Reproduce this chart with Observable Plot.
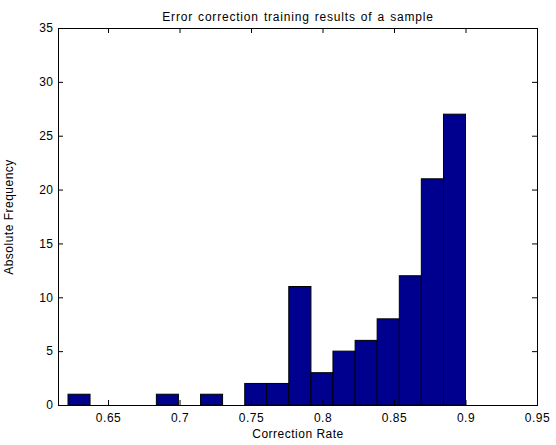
<!DOCTYPE html>
<html>
<head>
<meta charset="utf-8">
<script src="https://cdn.jsdelivr.net/npm/d3@7"></script>
<script src="https://cdn.jsdelivr.net/npm/@observablehq/plot@0.6"></script>
<style>
  html, body { margin: 0; padding: 0; background: #fff; }
  svg { display: block; }
  svg text { letter-spacing: 0.5px; }
  .title-mark text { letter-spacing: 0.8px; word-spacing: 1px; }
</style>
</head>
<body>
<div id="chart"></div>
<script>
const titleText = "Error correction training results of a sample";
const xLabel = "Correction Rate";
const yLabel = "Absolute Frequency";

// histogram bin edges (lower/upper) and counts
const binLower = [0.6220, 0.6374, 0.6529, 0.6683, 0.6838, 0.6992, 0.7147, 0.7301, 0.7456,
                  0.7610, 0.7764, 0.7919, 0.8073, 0.8228, 0.8382, 0.8537, 0.8691, 0.8846];
const binUpper = [0.6374, 0.6529, 0.6683, 0.6838, 0.6992, 0.7147, 0.7301, 0.7456, 0.7610,
                  0.7764, 0.7919, 0.8073, 0.8228, 0.8382, 0.8537, 0.8691, 0.8846, 0.9000];
const counts   = [1, 0, 0, 0, 1, 0, 1, 0, 2, 2, 11, 3, 5, 6, 8, 12, 21, 27];

const xTicks = [0.65, 0.7, 0.75, 0.8, 0.85, 0.9, 0.95];
const xTickLabels = ["0.65", "0.7", "0.75", "0.8", "0.85", "0.9", "0.95"];
const yTicks = [0, 5, 10, 15, 20, 25, 30, 35];
const xDomain = [0.615, 0.95];
const yDomain = [0, 35];

const bins = binLower.map((lo, i) => ({lo, hi: binUpper[i], count: counts[i]})).filter(d => d.count > 0);

const W = 556, H = 445;
const mL = 58, mR = 19, mT = 28, mB = 40;
const innerW = W - mL - mR, innerH = H - mT - mB;
const tickLen = 5;

const chart = Plot.plot({
  width: W,
  height: H,
  marginLeft: mL,
  marginRight: mR,
  marginTop: mT,
  marginBottom: mB,
  style: {fontFamily: "'Liberation Sans', Arial, sans-serif", fontSize: "12px", color: "#000", background: "#fff"},
  x: {domain: xDomain},
  y: {domain: yDomain},
  marks: [
    Plot.rectY(bins, {x1: "lo", x2: "hi", y: "count", fill: "#00008f", stroke: "#000", strokeWidth: 1}),
    Plot.frame({stroke: "#000", strokeWidth: 1}),
    // inward ticks bottom & top
    Plot.tickX(xTicks, {x: d => d, insetTop: innerH - tickLen, stroke: "#000"}),
    Plot.tickX(xTicks, {x: d => d, insetBottom: innerH - tickLen, stroke: "#000"}),
    // inward ticks left & right
    Plot.tickY(yTicks, {y: d => d, insetRight: innerW - tickLen, stroke: "#000"}),
    Plot.tickY(yTicks, {y: d => d, insetLeft: innerW - tickLen, stroke: "#000"}),
    Plot.axisX({ticks: xTicks, tickSize: 0, tickPadding: 8, label: null, fontSize: 12,
                tickFormat: d => xTickLabels[xTicks.indexOf(d)]}),
    Plot.axisY({ticks: yTicks, tickSize: 0, tickPadding: 5, label: null, fontSize: 12}),
    Plot.text([titleText], {frameAnchor: "top", dy: -16, text: d => d, fontSize: 12, textAnchor: "middle", className: "title-mark"}),
    Plot.text([xLabel], {frameAnchor: "bottom", dy: 32, text: d => d, fontSize: 12, textAnchor: "middle"}),
    Plot.text([yLabel], {frameAnchor: "left", dx: -49, rotate: -90, text: d => d, fontSize: 12, textAnchor: "middle"})
  ]
});
document.getElementById("chart").appendChild(chart);
</script>
</body>
</html>
